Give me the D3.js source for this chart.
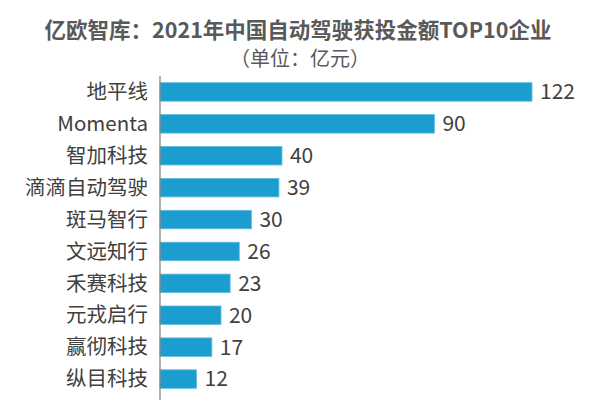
<!DOCTYPE html>
<html><head><meta charset="utf-8">
<script src="https://cdn.jsdelivr.net/npm/d3@7/dist/d3.min.js"></script>
<style>body{margin:0;background:#fff}</style>
</head><body><svg id="c" width="600" height="400"></svg>
<script>
const categories = ["地平线","Momenta","智加科技","滴滴自动驾驶","斑马智行","文远知行","禾赛科技","元戎启行","赢彻科技","纵目科技"];
const values = [122,90,40,39,30,26,23,20,17,12];
const title = "亿欧智库：2021年中国自动驾驶获投金额TOP10企业";
const subtitle = "（单位：亿元）";

const svg = d3.select("#c");
const font = "'Noto Sans CJK SC', 'DejaVu Sans', sans-serif";
const x = d3.scaleLinear().domain([0,122]).range([160,532]);
const y = d3.scaleBand().domain(categories).range([76,395]).paddingInner(0.42).paddingOuter(0.21);

svg.append("text").attr("x",298).attr("y",38).attr("text-anchor","middle")
  .attr("font-family",font).attr("font-weight","bold").attr("font-size",21.5).attr("fill","#595959").text(title);
svg.append("text").attr("x",300).attr("y",66).attr("text-anchor","middle")
  .attr("font-family",font).attr("font-size",20).attr("fill","#595959").text(subtitle);

svg.selectAll("rect.bar").data(values).join("rect").attr("class","bar")
  .attr("x",x(0)).attr("y",(d,i)=>y(categories[i])).attr("width",d=>x(d)-x(0))
  .attr("height",y.bandwidth()).attr("fill","#1b9dd0").attr("stroke","#5fbde0").attr("stroke-width",0.8);

svg.append("line").attr("x1",x(0)).attr("x2",x(0)).attr("y1",76).attr("y2",400)
  .attr("stroke","#808080").attr("stroke-width",1.2);

svg.selectAll("text.cat").data(categories).join("text").attr("class","cat")
  .attr("x",148).attr("y",d=>y(d)+y.bandwidth()/2).attr("dy","0.35em").attr("text-anchor","end")
  .attr("font-family",font).attr("font-size",20.5).attr("fill","#404040").text(d=>d);

svg.selectAll("text.val").data(values).join("text").attr("class","val")
  .attr("x",d=>x(d)+8).attr("y",(d,i)=>y(categories[i])+y.bandwidth()/2).attr("dy","0.35em")
  .attr("font-family",font).attr("font-size",21).attr("fill","#404040").text(d=>d);
</script></body></html>
